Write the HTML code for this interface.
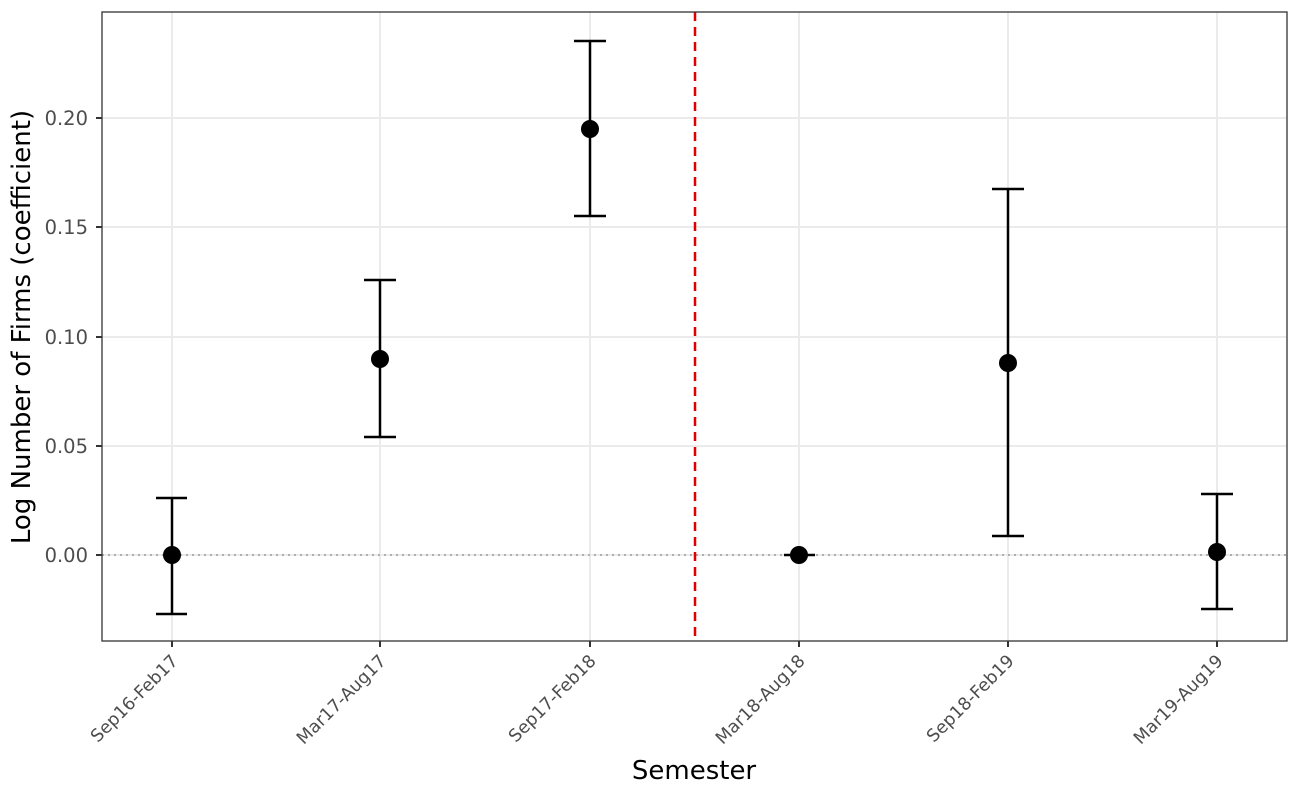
<!DOCTYPE html>
<html><head><meta charset="utf-8"><style>body{margin:0;background:#fff}svg{display:block}text{font-family:"DejaVu Sans","Liberation Sans",sans-serif}</style></head>
<body>
<svg width="1300" height="800" viewBox="0 0 1300 800" xmlns="http://www.w3.org/2000/svg">
<rect width="1300" height="800" fill="#fff"/>
<g stroke="#ebebeb" stroke-width="2">
<line x1="102" x2="1287" y1="118" y2="118"/><line x1="102" x2="1287" y1="227" y2="227"/>
<line x1="102" x2="1287" y1="337" y2="337"/><line x1="102" x2="1287" y1="446" y2="446"/>
<line x1="102" x2="1287" y1="555" y2="555"/>
<line x1="172" x2="172" y1="12" y2="641"/><line x1="380" x2="380" y1="12" y2="641"/>
<line x1="590" x2="590" y1="12" y2="641"/><line x1="799" x2="799" y1="12" y2="641"/>
<line x1="1008" x2="1008" y1="12" y2="641"/><line x1="1217" x2="1217" y1="12" y2="641"/>
</g>
<line x1="102" x2="1287" y1="555" y2="555" stroke="#999" stroke-width="1.5" stroke-dasharray="2,4"/>
<line x1="695" x2="695" y1="12" y2="641" stroke="#e00000" stroke-width="2.5" stroke-dasharray="9,6"/>
<g stroke="#000" stroke-width="2.5" fill="none">
<path d="M156 498H187M172 498V614M156 614H187"/>
<path d="M364 280H396M380 280V437M364 437H396"/>
<path d="M574 41H606M590 41V216M574 216H606"/>
<path d="M784 555H815"/>
<path d="M992 189H1024M1008 189V536M992 536H1024"/>
<path d="M1201 494H1233M1217 494V609M1201 609H1233"/>
</g>
<g fill="#000">
<circle cx="172" cy="555" r="9"/><circle cx="380" cy="359" r="9"/><circle cx="590" cy="129" r="9"/>
<circle cx="799" cy="555" r="9"/><circle cx="1008" cy="363" r="9"/><circle cx="1217" cy="552" r="9"/>
</g>
<rect x="102" y="12" width="1185" height="629" fill="none" stroke="#333" stroke-width="1.3"/>
<g stroke="#333" stroke-width="2">
<line x1="96" x2="102" y1="118" y2="118"/><line x1="96" x2="102" y1="227" y2="227"/>
<line x1="96" x2="102" y1="337" y2="337"/><line x1="96" x2="102" y1="446" y2="446"/>
<line x1="96" x2="102" y1="555" y2="555"/>
<line x1="172" x2="172" y1="641" y2="647"/><line x1="380" x2="380" y1="641" y2="647"/>
<line x1="590" x2="590" y1="641" y2="647"/><line x1="799" x2="799" y1="641" y2="647"/>
<line x1="1008" x2="1008" y1="641" y2="647"/><line x1="1217" x2="1217" y1="641" y2="647"/>
</g>
<g fill="#4d4d4d" font-size="19.5" text-anchor="end">
<text x="88" y="125">0.20</text><text x="88" y="234">0.15</text><text x="88" y="344">0.10</text>
<text x="88" y="453">0.05</text><text x="88" y="562">0.00</text>
</g>
<g fill="#4d4d4d" font-size="17.5" text-anchor="end">
<text transform="translate(179,662) rotate(-45)">Sep16-Feb17</text>
<text transform="translate(387,662) rotate(-45)">Mar17-Aug17</text>
<text transform="translate(597,662) rotate(-45)">Sep17-Feb18</text>
<text transform="translate(806,662) rotate(-45)">Mar18-Aug18</text>
<text transform="translate(1015,662) rotate(-45)">Sep18-Feb19</text>
<text transform="translate(1224,662) rotate(-45)">Mar19-Aug19</text>
</g>
<text x="694" y="779" font-size="26" text-anchor="middle" fill="#000">Semester</text>
<text transform="translate(30,327) rotate(-90)" font-size="26" text-anchor="middle" fill="#000">Log Number of Firms (coefficient)</text>
</svg>
</body></html>
